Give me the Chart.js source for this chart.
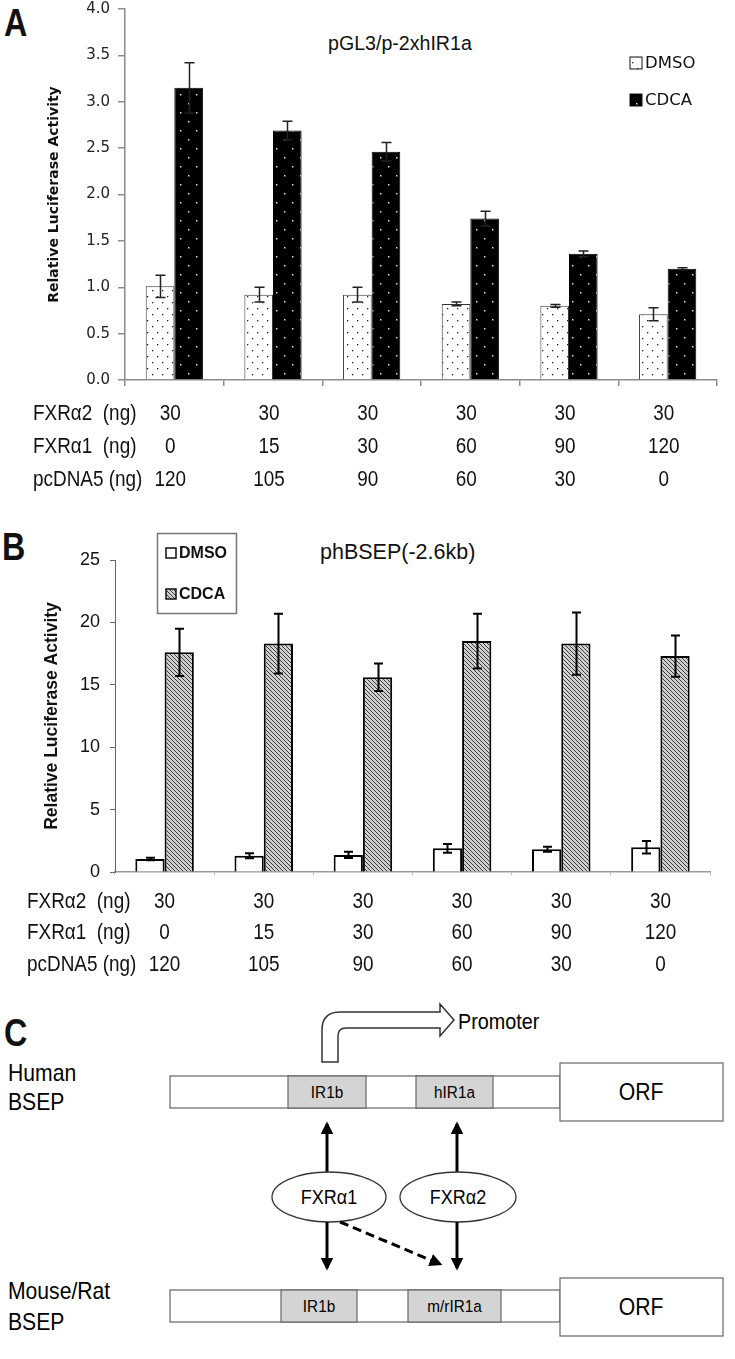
<!DOCTYPE html>
<html>
<head>
<meta charset="utf-8">
<script src="https://cdn.jsdelivr.net/npm/chart.js@4.4.1/dist/chart.umd.min.js"></script>
<style>
  html, body { margin: 0; padding: 0; background: #fff; }
  body { width: 735px; height: 1359px; position: relative; overflow: hidden; font-family: "Liberation Sans", Arial, sans-serif; color: #111; }
  canvas.chart { position: absolute; left: 0; }
  .letter { position: absolute; font: bold 38px "Liberation Sans", Arial, sans-serif; transform: scaleX(0.85); transform-origin: left top; line-height: 1; }
  .title { position: absolute; white-space: nowrap; line-height: 1; transform-origin: left top; }
  #diagram { position: absolute; left: 0; top: 990px; }
</style>
</head>
<body>

<div class="letter" style="left:4px;top:4px;">A</div>
<div class="letter" style="left:2px;top:528px;">B</div>
<div class="letter" style="left:4px;top:1014px;">C</div>

<div class="title" style="left:328px;top:33px;font-size:20px;transform:scaleX(0.98);">pGL3/p-2xhIR1a</div>
<div class="title" style="left:320px;top:542px;font-size:21.5px;">phBSEP(-2.6kb)</div>

<canvas id="chartA" class="chart" width="735" height="500" style="top:0;"></canvas>
<canvas id="chartB" class="chart" width="735" height="490" style="top:500px;"></canvas>

<svg id="diagram" width="735" height="369" viewBox="0 990 735 369" font-family="Liberation Sans, Arial, sans-serif">
  <defs>
    <marker id="head" viewBox="0 0 10 10" refX="8" refY="5" markerWidth="4.3" markerHeight="4.3" orient="auto">
      <path d="M0,0 L10,5 L0,10 Z" fill="#000"/>
    </marker>
  </defs>

  <!-- promoter arrow -->
  <path d="M322,1062 L322,1030 Q322,1012 340,1012 L440,1012 L440,1004 L454,1020 L440,1036 L440,1028 L346,1028 Q338,1028 338,1036 L338,1062 Z"
        fill="#fff" stroke="#333" stroke-width="1.5"/>
  <text transform="translate(458,1029) scale(0.9,1)" font-size="22">Promoter</text>

  <!-- human BSEP -->
  <text transform="translate(8,1081) scale(0.92,1)" font-size="23">Human</text>
  <text transform="translate(8,1110) scale(0.92,1)" font-size="23">BSEP</text>
  <rect x="170" y="1076" width="390" height="32" fill="#fff" stroke="#666" stroke-width="1.2"/>
  <rect x="288" y="1076" width="78" height="32" fill="#d4d4d4" stroke="#666" stroke-width="1.2"/>
  <rect x="416" y="1076" width="77" height="32" fill="#d4d4d4" stroke="#666" stroke-width="1.2"/>
  <text transform="translate(327,1098) scale(0.9,1)" font-size="17" text-anchor="middle">IR1b</text>
  <text transform="translate(454.5,1098) scale(0.9,1)" font-size="17" text-anchor="middle">hIR1a</text>
  <rect x="560" y="1063" width="163" height="58" fill="#fff" stroke="#666" stroke-width="1.2"/>
  <text transform="translate(641,1100) scale(0.92,1)" font-size="23" text-anchor="middle">ORF</text>

  <!-- FXR arrows and ellipses -->
  <line x1="327" y1="1174" x2="327" y2="1124" stroke="#000" stroke-width="3" marker-end="url(#head)"/>
  <line x1="457" y1="1174" x2="457" y2="1124" stroke="#000" stroke-width="3" marker-end="url(#head)"/>
  <ellipse cx="329" cy="1197" rx="57" ry="25" fill="#fff" stroke="#333" stroke-width="1.3"/>
  <ellipse cx="458" cy="1197" rx="58" ry="25" fill="#fff" stroke="#333" stroke-width="1.3"/>
  <text transform="translate(329,1204) scale(0.9,1)" font-size="20" text-anchor="middle">FXRα1</text>
  <text transform="translate(458,1204) scale(0.9,1)" font-size="20" text-anchor="middle">FXRα2</text>
  <line x1="327" y1="1222" x2="327" y2="1268" stroke="#000" stroke-width="3" marker-end="url(#head)"/>
  <line x1="457" y1="1222" x2="457" y2="1268" stroke="#000" stroke-width="3" marker-end="url(#head)"/>
  <line x1="340" y1="1222" x2="440" y2="1264" stroke="#000" stroke-width="3" stroke-dasharray="9,5" marker-end="url(#head)"/>

  <!-- mouse / rat BSEP -->
  <text transform="translate(8,1299) scale(0.92,1)" font-size="23">Mouse/Rat</text>
  <text transform="translate(8,1330) scale(0.92,1)" font-size="23">BSEP</text>
  <rect x="170" y="1290" width="390" height="32" fill="#fff" stroke="#666" stroke-width="1.2"/>
  <rect x="281" y="1290" width="76" height="32" fill="#d4d4d4" stroke="#666" stroke-width="1.2"/>
  <rect x="408" y="1290" width="93" height="32" fill="#d4d4d4" stroke="#666" stroke-width="1.2"/>
  <text transform="translate(319,1312) scale(0.9,1)" font-size="17" text-anchor="middle">IR1b</text>
  <text transform="translate(454.5,1312) scale(0.9,1)" font-size="17" text-anchor="middle">m/rIR1a</text>
  <rect x="560" y="1278" width="163" height="58" fill="#fff" stroke="#666" stroke-width="1.2"/>
  <text transform="translate(641,1315) scale(0.92,1)" font-size="23" text-anchor="middle">ORF</text>
</svg>

<script>
// ===============================
// Data
// ===============================
const categories = ["1", "2", "3", "4", "5", "6"];
const fxra2Ng = [30, 30, 30, 30, 30, 30];
const fxra1Ng = [0, 15, 30, 60, 90, 120];
const pcdna5Ng = [120, 105, 90, 60, 30, 0];
const rowLabels = ["FXR\u03b12  (ng)", "FXR\u03b11  (ng)", "pcDNA5 (ng)"];

// panel A: pGL3/p-2xhIR1a
const aDmso = [1.01, 0.92, 0.92, 0.82, 0.80, 0.71];
const aDmsoErr = [0.12, 0.08, 0.08, 0.02, 0.015, 0.07];
const aCdca = [3.15, 2.69, 2.46, 1.74, 1.36, 1.20];
const aCdcaErr = [0.27, 0.10, 0.10, 0.08, 0.03, 0.01];

// panel B: phBSEP(-2.6kb)
const bDmso = [1.05, 1.3, 1.37, 1.9, 1.82, 1.98];
const bDmsoErr = [0.1, 0.2, 0.25, 0.35, 0.2, 0.5];
const bCdca = [17.6, 18.3, 15.6, 18.5, 18.3, 17.3];
const bCdcaErr = [1.9, 2.4, 1.1, 2.2, 2.5, 1.65];

// ===============================
// Fill patterns
// ===============================
function tile(w, h, bg, fg, px) {
  const c = document.createElement("canvas");
  c.width = w; c.height = h;
  const g = c.getContext("2d");
  g.fillStyle = bg; g.fillRect(0, 0, w, h);
  g.fillStyle = fg;
  px.forEach(([x, y, s]) => g.fillRect(x, y, s || 1, s || 1));
  return g.createPattern(c, "repeat");
}
const dotsLight = tile(10, 12, "#fff", "#222", [[2, 2, 1.3], [7, 8, 1.3]]);
const dotsDark = tile(16, 18, "#000", "#ddd", [[4, 4, 1.5], [12, 13, 1.5]]);
const hatch = tile(4, 4, "#cfcfcf", "#3a3a3a", [[0, 0], [1, 1], [2, 2], [3, 3]]);

function narrow(ctx, text, x, y, size, align, weight, sx) {
  ctx.save();
  ctx.translate(x, y);
  ctx.scale(sx || 0.86, 1);
  ctx.font = (weight || "normal") + " " + size + "px 'Liberation Sans', Arial, sans-serif";
  ctx.textAlign = align;
  ctx.textBaseline = "middle";
  ctx.fillText(text, 0, 0);
  ctx.restore();
}

// ===============================
// Plugins
// ===============================
const errorBars = {
  id: "errorBars",
  afterDatasetsDraw(chart, args, opts) {
    const { ctx } = chart;
    const y = chart.scales.y;
    ctx.save();
    ctx.strokeStyle = opts.color;
    ctx.lineWidth = opts.width;
    chart.data.datasets.forEach((ds, di) => {
      chart.getDatasetMeta(di).data.forEach((bar, i) => {
        const v = ds.data[i], e = ds.errors[i];
        const top = y.getPixelForValue(v + e);
        const bot = y.getPixelForValue(v - e);
        const x = Math.round(bar.x) + 0.5;
        const h = opts.cap / 2;
        ctx.beginPath();
        ctx.moveTo(x, top); ctx.lineTo(x, bot);
        ctx.moveTo(x - h, top); ctx.lineTo(x + h, top);
        ctx.moveTo(x - h, bot); ctx.lineTo(x + h, bot);
        ctx.stroke();
      });
    });
    ctx.restore();
  }
};

const doseTable = {
  id: "doseTable",
  afterDraw(chart, args, opts) {
    const { ctx } = chart;
    const x = chart.scales.x;
    ctx.save();
    ctx.fillStyle = "#111";
    [fxra2Ng, fxra1Ng, pcdna5Ng].forEach((row, r) => {
      const y = opts.rowY[r];
      narrow(ctx, rowLabels[r], opts.labelX, y, opts.size, "left");
      row.forEach((v, i) => {
        narrow(ctx, String(v), x.getPixelForValue(i) + opts.shift, y, opts.size, "center");
      });
    });
    ctx.restore();
  }
};

const boxLegend = {
  id: "boxLegend",
  afterDraw(chart, args, opts) {
    const { ctx } = chart;
    ctx.save();
    if (opts.frame) {
      const f = opts.frame;
      ctx.strokeStyle = "#777";
      ctx.lineWidth = 1.5;
      ctx.strokeRect(f[0], f[1], f[2], f[3]);
    }
    chart.data.datasets.forEach((ds, i) => {
      const y = opts.y + i * opts.gap;
      const s = opts.box;
      ctx.fillStyle = ds.backgroundColor;
      ctx.fillRect(opts.x, y - s / 2, s, s);
      ctx.strokeStyle = "#111";
      ctx.lineWidth = opts.boxLine;
      ctx.strokeRect(opts.x, y - s / 2, s, s);
      ctx.fillStyle = "#111";
      ctx.font = opts.font;
      ctx.textBaseline = "middle";
      ctx.textAlign = "left";
      ctx.fillText(ds.label, opts.x + s + 3, y + 1);
    });
    ctx.restore();
  }
};

// keep the fixed axis box and drop the automatic label padding
const fixY = w => s => { s.width = w; s.paddingTop = 0; s.paddingBottom = 0; };

// ===============================
// Panel A
// ===============================
const greyA = "#8c8c8c";
new Chart(document.getElementById("chartA"), {
  type: "bar",
  data: {
    labels: categories,
    datasets: [
      { label: "DMSO", data: aDmso, errors: aDmsoErr, backgroundColor: dotsLight, borderColor: "#333", borderWidth: 1 },
      { label: "CDCA", data: aCdca, errors: aCdcaErr, backgroundColor: dotsDark, borderColor: "#000", borderWidth: 1 }
    ]
  },
  options: {
    responsive: false,
    animation: false,
    devicePixelRatio: 1,
    layout: { padding: { left: 0, right: 18, top: 9, bottom: 0 } },
    datasets: { bar: { categoryPercentage: 0.58, barPercentage: 1 } },
    plugins: {
      legend: { display: false },
      tooltip: { enabled: false },
      errorBars: { color: "#222", width: 1.5, cap: 10 },
      doseTable: { rowY: [414, 447, 480], labelX: 33, size: 22, shift: -4 },
      boxLegend: { x: 630, y: 63, gap: 37, box: 12, boxLine: 1, font: "16.5px 'DejaVu Sans', sans-serif" }
    },
    scales: {
      x: {
        ticks: { display: false },
        grid: { display: true, drawOnChartArea: false, drawTicks: true, tickLength: 6, color: greyA, lineWidth: 1.5, offset: true },
        border: { color: greyA, width: 1.5 },
        afterFit: s => { s.height = 120; }
      },
      y: {
        min: 0,
        max: 4,
        ticks: { stepSize: 0.5, callback: v => v.toFixed(1), color: "#222", padding: 8, font: { family: "'DejaVu Sans', sans-serif", size: 15 } },
        grid: { drawOnChartArea: false, drawTicks: true, tickLength: 7, color: greyA, lineWidth: 1.5 },
        border: { color: greyA, width: 1.5 },
        title: {
          display: true,
          text: "Relative Luciferase Activity",
          color: "#111",
          font: { family: "'DejaVu Sans', sans-serif", size: 14, weight: "bold" },
          padding: { top: 46, bottom: 0 }
        },
        afterFit: fixY(125)
      }
    }
  },
  plugins: [errorBars, doseTable, boxLegend]
});

// ===============================
// Panel B
// ===============================
new Chart(document.getElementById("chartB"), {
  type: "bar",
  data: {
    labels: categories,
    datasets: [
      { label: "DMSO", data: bDmso, errors: bDmsoErr, backgroundColor: "#fff", borderColor: "#000", borderWidth: 2 },
      { label: "CDCA", data: bCdca, errors: bCdcaErr, backgroundColor: hatch, borderColor: "#000", borderWidth: 2 }
    ]
  },
  options: {
    responsive: false,
    animation: false,
    devicePixelRatio: 1,
    layout: { padding: { left: 0, right: 25, top: 60, bottom: 0 } },
    datasets: { bar: { categoryPercentage: 0.59, barPercentage: 1 } },
    plugins: {
      legend: { display: false },
      tooltip: { enabled: false },
      errorBars: { color: "#000", width: 2, cap: 9 },
      doseTable: { rowY: [402, 433, 465], labelX: 27, size: 22, shift: 0 },
      boxLegend: { x: 166, y: 53, gap: 41, box: 10, boxLine: 1.5, frame: [157.5, 33.5, 79, 80], font: "bold 16px 'Liberation Sans', Arial, sans-serif" }
    },
    scales: {
      x: {
        ticks: { display: false },
        grid: { display: true, drawOnChartArea: false, drawTicks: true, tickLength: 3, color: "#bbb", offset: true },
        border: { color: "#999", width: 1.5 },
        afterFit: s => { s.height = 118; }
      },
      y: {
        min: 0,
        max: 25,
        ticks: { stepSize: 5, color: "#111", padding: 10, font: { family: "'Liberation Sans', Arial, sans-serif", size: 18 } },
        grid: { drawOnChartArea: false, drawTicks: true, tickLength: 5, color: "#666", lineWidth: 1 },
        border: { color: "#666", width: 1 },
        title: {
          display: true,
          text: "Relative Luciferase Activity",
          color: "#111",
          font: { family: "'Liberation Sans', Arial, sans-serif", size: 17.5, weight: "bold" },
          padding: { top: 42, bottom: 0 }
        },
        afterFit: fixY(115)
      }
    }
  },
  plugins: [errorBars, doseTable, boxLegend]
});
</script>
</body>
</html>
